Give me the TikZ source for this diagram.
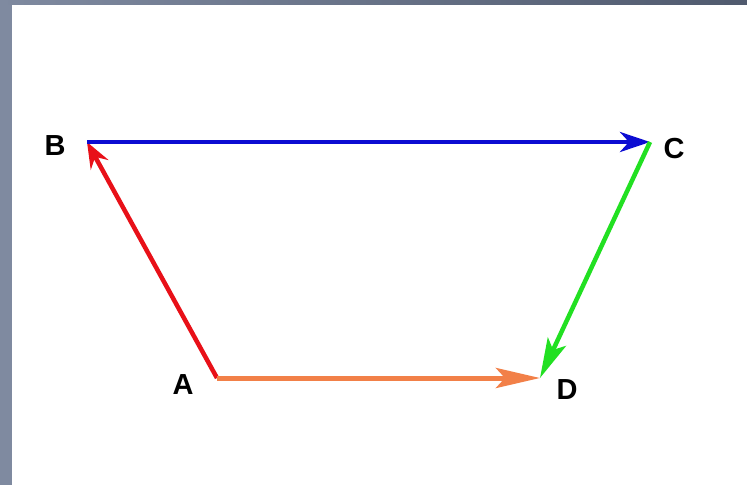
\documentclass[tikz,border=0pt]{standalone}
\usepackage{fontspec}
\setmainfont{Liberation Sans}
\usepackage{xcolor}
\definecolor{framegray}{HTML}{7F8AA0}
\definecolor{framedark}{HTML}{505A6E}
\definecolor{vecred}{HTML}{E81018}
\definecolor{vecblue}{HTML}{0C0CD2}
\definecolor{vecgreen}{HTML}{22E022}
\definecolor{vecorange}{HTML}{F28048}
\usetikzlibrary{arrows.meta}

\begin{document}
\begin{tikzpicture}[x=1pt,y=-1pt,
  lbl/.style={font=\fontsize{29}{31}\selectfont\bfseries,inner sep=0pt},
  vec/.style={-{Stealth[length=#1,width=20pt,inset=9pt]},line width=4.5pt},
  vec/.default=30pt]
\useasboundingbox (0,0) rectangle (747,485);
\fill[white] (0,0) rectangle (747,485);
\fill[framegray] (0,0) rectangle (12,485);
\shade[left color=framegray,right color=framedark] (0,0) rectangle (747,4);
\coordinate (A) at (217,378);
\coordinate (B) at (87,142);
\coordinate (C) at (650,142);
\coordinate (D) at (540,378);
\node[lbl] (lA) at (183,385) {A};
\node[lbl] (lB) at (55,146) {B};
\node[lbl] (lC) at (674,149) {C};
\node[lbl] (lD) at (567,390) {D};
\draw[vec=26pt,vecred] (A) -- (B);
\draw[vec,vecblue] (B) -- (C);
\draw[vec=40pt,vecgreen] (C) -- (D);
\draw[vec=44pt,vecorange,line width=5pt] (A) -- (D);
\end{tikzpicture}
\end{document}
